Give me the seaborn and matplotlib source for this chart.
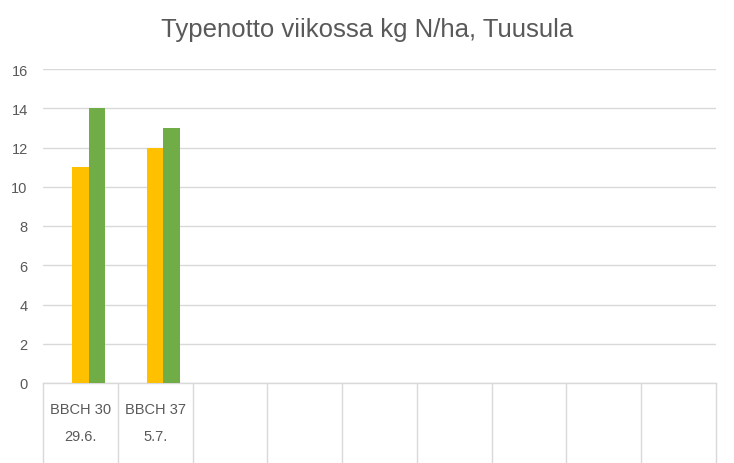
import pandas as pd
import matplotlib
matplotlib.use("Agg")
import matplotlib.pyplot as plt
import seaborn as sns

# --- data ---
stages = ["BBCH 30", "BBCH 37"]
dates = ["29.6.", "5.7."]
n_slots = 9  # category slots on the x axis (7 are still empty)
series = ["sarja 1", "sarja 2", "sarja 3"]  # first series has no values yet
values_s1 = [float("nan"), float("nan")]
values_s2 = [11, 12]
values_s3 = [14, 13]
colors = ["#4472C4", "#FFC000", "#70AD47"]

slots = [f"{s} {d}" for s, d in zip(stages, dates)]
slots += [f"tyhjä {i}" for i in range(len(slots), n_slots)]

rows = []
for name, vals in zip(series, [values_s1, values_s2, values_s3]):
    for slot, v in zip(slots, vals):
        rows.append({"vaihe": slot, "sarja": name, "N": v})
df = pd.DataFrame(rows)

sns.set_theme(style="white")
plt.rcParams["font.family"] = ["Liberation Sans", "DejaVu Sans"]

fig = plt.figure(figsize=(7.34, 4.64), dpi=100)
ax = fig.add_axes([43 / 734, 1 - 384 / 464, (716 - 43) / 734, (384 - 70) / 464])

sns.barplot(data=df, x="vaihe", y="N", hue="sarja", order=slots, hue_order=series,
            palette=colors, width=0.66, saturation=1, legend=False, ax=ax,
            errorbar=None, linewidth=0, edgecolor="none", zorder=3)

ax.set_xlim(-0.5, n_slots - 0.5)
ax.set_ylim(0, 16)
ax.set_yticks(range(0, 17, 2))
ax.yaxis.grid(True, color="#D9D9D9", linewidth=1)
ax.set_axisbelow(True)
for sp in ["top", "right", "left"]:
    ax.spines[sp].set_visible(False)
ax.spines["bottom"].set_color("#D9D9D9")
ax.spines["bottom"].set_linewidth(1)
ax.tick_params(axis="y", length=0, labelsize=10.5, labelcolor="#595959", pad=11)
ax.set_xticks([])
ax.set_xlabel("")
ax.set_ylabel("")

# multi-level category axis: divider lines + two label rows
tr = ax.get_xaxis_transform()
for k in range(n_slots + 1):
    ax.plot([k - 0.5, k - 0.5], [0, -(464 - 384) / 314], transform=tr,
            color="#D9D9D9", linewidth=1, clip_on=False)
for i, (s, d) in enumerate(zip(stages, dates)):
    ax.text(i, -(410 - 384) / 314, s, transform=tr, ha="center", va="center",
            fontsize=10.5, color="#595959")
    ax.text(i, -(437 - 384) / 314, d, transform=tr, ha="center", va="center",
            fontsize=10.5, color="#595959")

fig.text(0.5, 1 - 30 / 464, "Typenotto viikossa kg N/ha, Tuusula", ha="center",
         va="center", fontsize=18.5, color="#595959")

fig.savefig("out.png", dpi=100)
